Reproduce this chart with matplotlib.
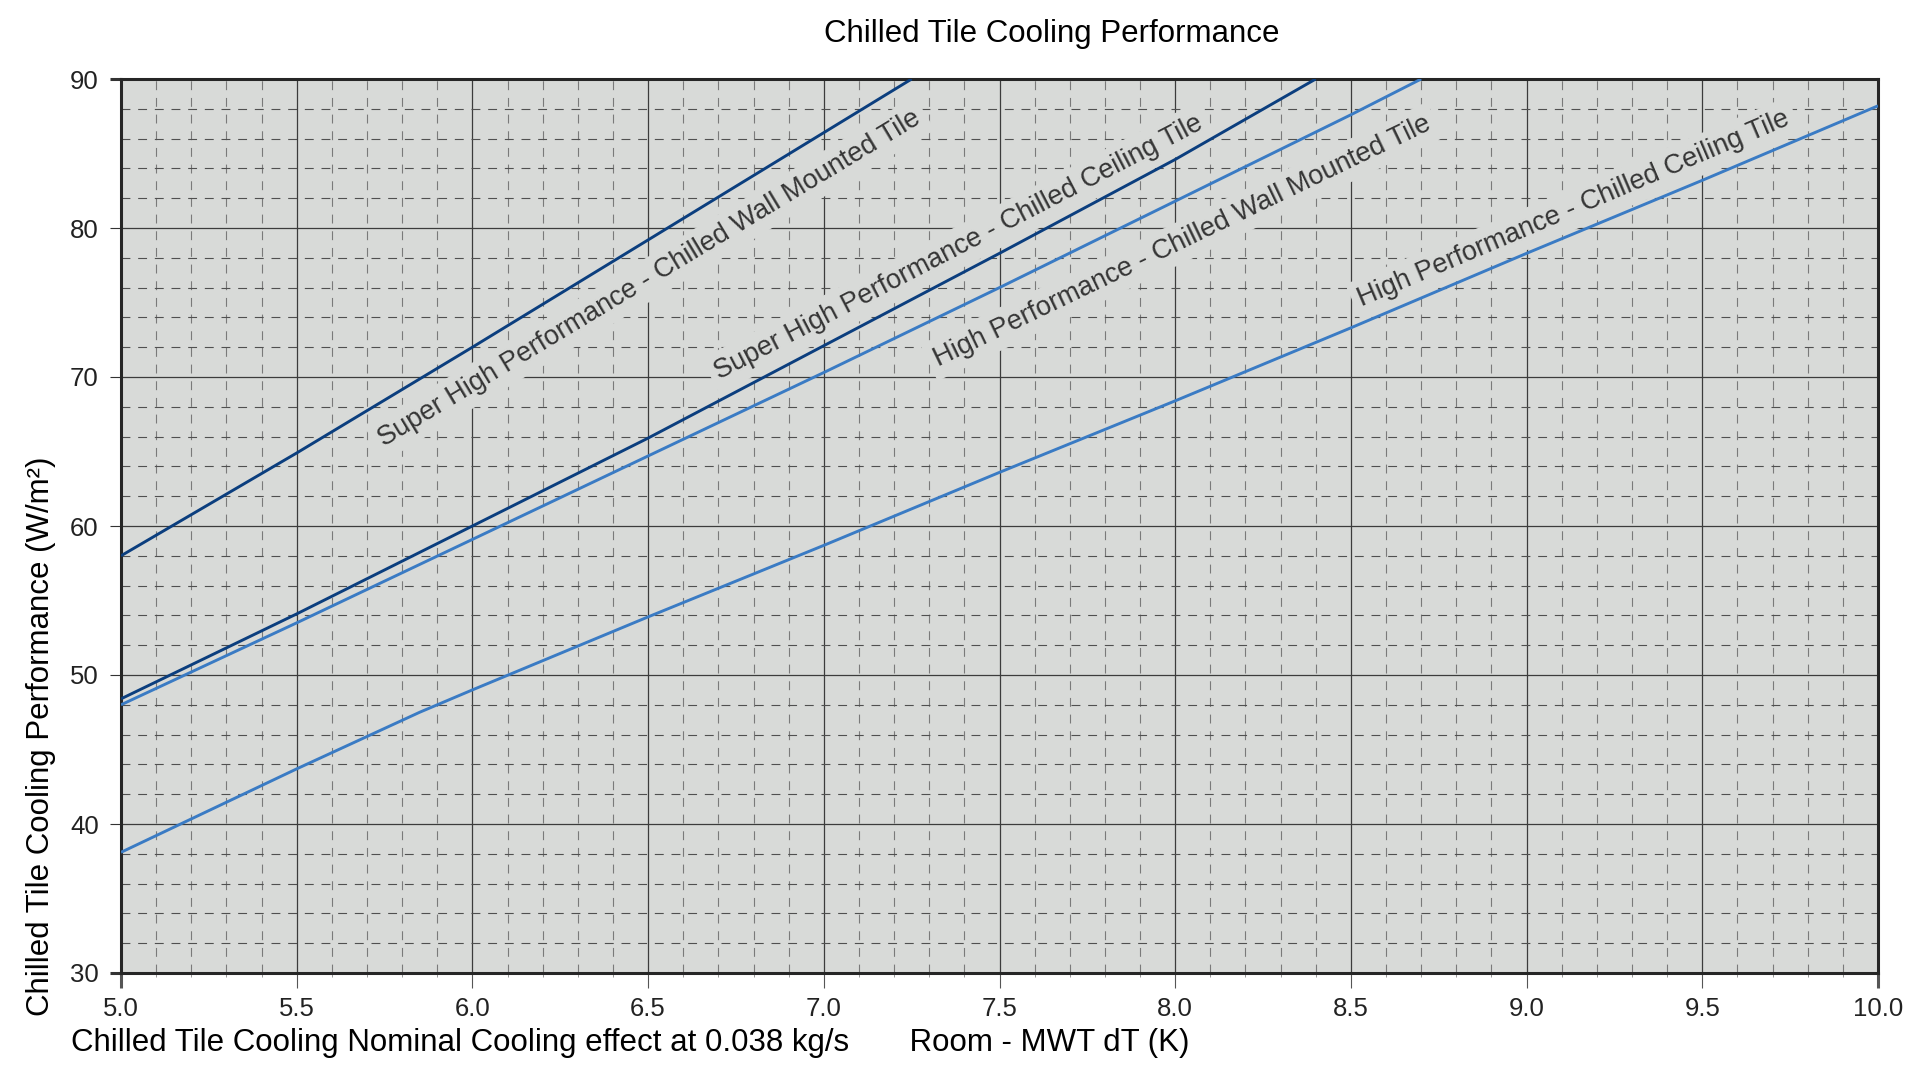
import matplotlib
matplotlib.use("Agg")
import matplotlib.pyplot as plt
import numpy as np
from matplotlib.ticker import MultipleLocator

plt.rcParams['font.family'] = ['Liberation Sans', 'DejaVu Sans']

# data (Room - MWT dT in K, cooling in W/m2)
shp_wall_x = [5.0, 5.5, 6.0, 6.5, 7.0, 7.25]
shp_wall_y = [58.0, 64.9, 72.0, 79.2, 86.4, 90.0]

shp_ceiling_x = [5.0, 5.5, 6.0, 6.5, 7.0, 7.5, 8.0, 8.4]
shp_ceiling_y = [48.4, 54.1, 60.0, 65.9, 72.1, 78.3, 84.6, 90.0]

hp_wall_x = [5.0, 5.5, 6.0, 6.5, 7.0, 7.5, 8.0, 8.5, 8.7]
hp_wall_y = [48.0, 53.5, 59.1, 64.7, 70.3, 76.0, 81.8, 87.6, 90.0]

hp_ceiling_x = [5.0, 5.5, 5.85, 6.0, 6.5, 7.0, 7.5, 8.0, 8.5, 9.0, 9.5, 10.0]
hp_ceiling_y = [38.1, 43.7, 47.5, 49.0, 53.9, 58.7, 63.6, 68.4, 73.3, 78.3, 83.2, 88.2]

series_labels = [
    'Super High Performance - Chilled Wall Mounted Tile',
    'Super High Performance - Chilled Ceiling Tile',
    'High Performance - Chilled Wall Mounted Tile',
    'High Performance - Chilled Ceiling Tile',
]
label_x = [6.505, 7.385, 8.02, 9.135]
label_y = [76.6, 78.7, 79.1, 81.3]

x_ticks = [5.0, 5.5, 6.0, 6.5, 7.0, 7.5, 8.0, 8.5, 9.0, 9.5, 10.0]
y_ticks = [30, 40, 50, 60, 70, 80, 90]

navy = '#0b3e7e'
blue = '#3a7bc4'
face = '#d8dad8'

W, H = 1916, 1074
fig = plt.figure(figsize=(W / 100, H / 100), dpi=100)
ax = fig.add_axes([121 / W, 1 - 973 / H, (1878 - 121) / W, (973 - 79) / H])
ax.set_facecolor(face)

series = [(shp_wall_x, shp_wall_y, navy),
          (shp_ceiling_x, shp_ceiling_y, navy),
          (hp_wall_x, hp_wall_y, blue),
          (hp_ceiling_x, hp_ceiling_y, blue)]
for xs, ys, c in series:
    ax.plot(xs, ys, color=c, lw=2.1, zorder=4, solid_capstyle='butt')

ax.set_xlim(5, 10)
ax.set_ylim(30, 90)
ax.set_xticks(x_ticks)
ax.set_yticks(y_ticks)
ax.set_xticklabels([f'{v:.1f}' for v in x_ticks])
ax.xaxis.set_minor_locator(MultipleLocator(0.1))
ax.yaxis.set_minor_locator(MultipleLocator(2))

ax.set_axisbelow(True)
ax.grid(which='major', color='#3c3c3c', lw=0.9, ls='-')
ax.xaxis.grid(True, which='minor', color='#7a7a7a', lw=0.8, ls=(0, (8, 7)))
ax.yaxis.grid(True, which='minor', color='#505050', lw=0.8, ls=(0, (8, 7)))

for s in ax.spines.values():
    s.set_linewidth(2.2)
    s.set_color('#262626')

ax.tick_params(axis='x', which='major', length=11, width=0.8, color='#555555',
               labelsize=18.5, labelcolor='#222222', pad=6)
ax.tick_params(axis='y', which='major', length=8, width=0.8, color='#333333',
               labelsize=18.5, labelcolor='#222222', pad=8)
ax.tick_params(axis='x', which='minor', length=3, width=0.6, color='#888888')
ax.tick_params(axis='y', which='minor', length=0)

# thick spine stubs at the axis ends
for t in [ax.xaxis.get_major_ticks()[0], ax.xaxis.get_major_ticks()[-1],
          ax.yaxis.get_major_ticks()[0], ax.yaxis.get_major_ticks()[-1]]:
    t.tick1line.set_markeredgewidth(2.2)
    t.tick1line.set_color('#262626')

# rotated labels along each line
fig.canvas.draw()
for (xs, ys, c), txt, lx, ly in zip(series, series_labels, label_x, label_y):
    p0 = ax.transData.transform((xs[0], ys[0]))
    p1 = ax.transData.transform((xs[-1], ys[-1]))
    ang = np.degrees(np.arctan2(p1[1] - p0[1], p1[0] - p0[0]))
    ax.text(lx, ly, txt, rotation=ang, rotation_mode='anchor',
            ha='center', va='center', fontsize=19.5, color='#353535', zorder=3,
            bbox=dict(boxstyle='square,pad=0.25', fc=face, ec='none'))

fig.text(1052 / W, 1 - 42 / H, 'Chilled Tile Cooling Performance',
         ha='center', va='baseline', fontsize=22.5, color='black')
fig.text(71 / W, 1 - 1051 / H,
         'Chilled Tile Cooling Nominal Cooling effect at 0.038 kg/s       Room - MWT dT (K)',
         ha='left', va='baseline', fontsize=22.5, color='black')
fig.text(26 / W, 1 - 736 / H, 'Chilled Tile Cooling Performance (W/m²)',
         rotation=90, ha='left', va='center', fontsize=22.5, color='black')

fig.savefig('out.png', dpi=100, facecolor='white')
